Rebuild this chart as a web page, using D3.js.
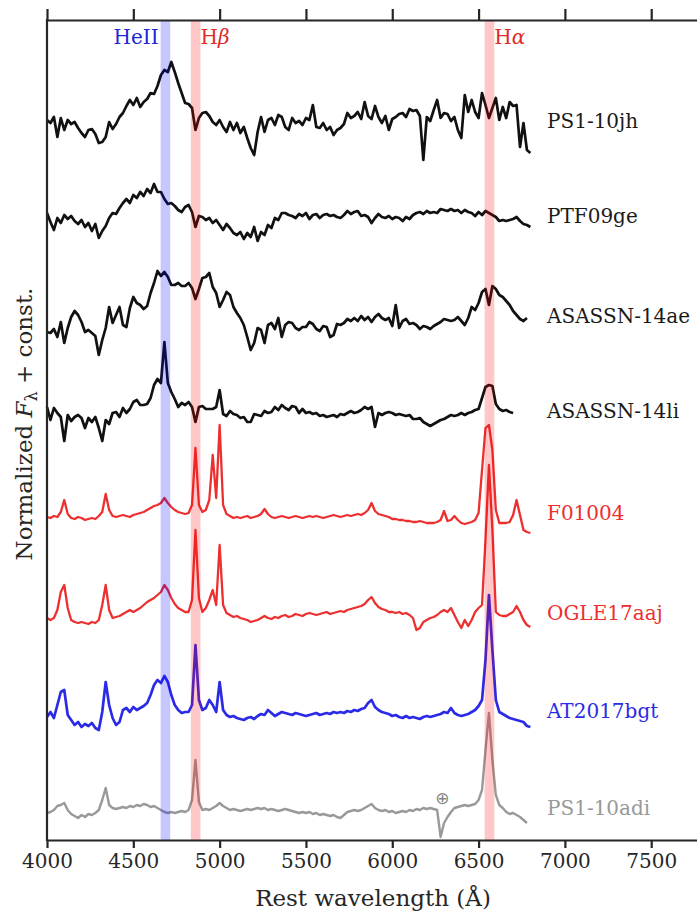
<!DOCTYPE html>
<html lang="en">
<head>
<meta charset="utf-8">
<title>Spectra comparison</title>
<script src="https://cdn.jsdelivr.net/npm/d3@7"></script>
<style>
  body { margin: 0; background: #fff; }
  svg { display: block; font-family: "DejaVu Serif", serif; }
  .axis text { font-size: 20px; fill: #262626; font-family: "DejaVu Serif", serif; }
  .axis path, .axis line { stroke: #262626; stroke-width: 2.2; }
  .spec { fill: none; stroke-linejoin: round; }
  .name { font-size: 20px; dominant-baseline: central; }
</style>
</head>
<body>
<svg id="chart" width="697" height="913"></svg>
<script>
// every spectrum is sampled on the same grid: 4000 A + 20 A steps
var gridStart = 4000, gridStep = 20;

var names = ["PS1-10jh", "PTF09ge", "ASASSN-14ae", "ASASSN-14li",
             "F01004", "OGLE17aaj", "AT2017bgt", "PS1-10adi"];
var colors = ["#111", "#111", "#111", "#111", "#ec2f2f", "#ec2f2f", "#2b2be6", "#999"];
var widths = [2.7, 2.7, 2.7, 2.7, 2.3, 2.3, 2.7, 2.4];
// vertical constant added to each normalized spectrum
var offsets = [7.15, 6.20, 5.20, 4.25, 3.23, 2.23, 1.25, 0.28];

var fluxJh = [1.05,1.02,1.08,0.88,1.07,0.95,1.05,1.01,1.03,0.97,
  0.92,0.88,0.95,0.96,0.91,0.82,0.83,0.88,1.03,0.96,
  1.01,1.08,1.12,1.19,1.25,1.20,1.27,1.18,1.23,1.26,
  1.32,1.31,1.39,1.50,1.55,1.53,1.63,1.53,1.42,1.32,
  1.22,1.21,1.17,0.95,1.07,1.12,1.13,1.09,1.03,1.00,
  1.05,0.98,0.93,1.03,0.95,1.02,0.92,0.98,0.87,0.77,
  0.70,0.93,1.08,0.93,1.05,1.07,1.00,1.10,1.08,0.98,
  0.95,1.07,1.02,1.04,1.00,1.07,1.05,1.20,0.98,0.97,
  1.02,0.95,0.98,0.90,0.95,0.97,1.01,1.12,1.07,1.09,
  1.13,1.06,1.23,1.09,1.06,1.19,1.08,1.02,1.09,0.95,
  1.06,1.08,1.11,1.12,1.08,1.16,1.14,1.15,1.09,0.65,
  1.08,1.04,1.15,1.25,1.07,1.12,1.11,1.04,1.08,0.95,
  0.87,1.30,1.13,1.25,1.13,1.07,1.32,1.20,1.07,1.17,
  1.27,1.05,1.18,1.07,1.23,1.19,1.20,0.78,1.02,0.75,
  0.72];

var fluxGe = [1.07,0.98,0.90,1.02,0.97,1.05,1.01,1.04,0.99,0.96,
  1.00,0.93,0.97,0.89,0.96,0.82,0.89,0.94,1.02,1.07,
  1.06,1.12,1.17,1.21,1.17,1.25,1.22,1.28,1.24,1.31,
  1.27,1.36,1.28,1.28,1.21,1.16,1.17,1.14,1.10,1.08,
  1.13,1.15,1.08,0.93,1.04,1.03,1.00,1.02,0.97,1.00,
  0.95,0.90,0.96,0.92,0.87,0.85,0.88,0.81,0.87,0.83,
  0.93,0.79,0.88,0.85,0.95,0.92,1.02,1.00,1.07,1.07,
  1.05,1.04,1.02,1.06,1.04,1.07,1.01,1.05,1.06,1.02,
  1.05,1.06,1.04,1.05,1.03,1.02,1.05,1.09,1.06,1.08,
  1.09,1.04,1.05,1.03,0.97,1.02,1.06,1.03,1.02,1.04,
  1.01,1.03,1.02,0.99,1.03,1.01,1.05,1.07,1.08,1.06,
  1.09,1.07,1.08,1.07,1.11,1.10,1.09,1.11,1.09,1.10,
  1.07,1.10,1.08,1.07,1.04,1.08,1.05,1.09,1.07,1.05,
  1.03,0.99,1.00,0.99,1.00,1.01,1.03,0.99,0.96,0.95,
  0.93];

var fluxAe = [0.88,0.87,0.91,0.83,0.98,0.77,0.92,1.03,1.09,1.05,
  0.98,0.88,0.90,0.87,0.84,0.65,0.80,0.92,1.13,0.97,
  1.05,1.13,0.95,0.93,1.12,1.23,1.17,1.15,1.11,1.14,
  1.27,1.37,1.49,1.44,1.48,1.43,1.35,1.35,1.37,1.34,
  1.34,1.37,1.32,1.21,1.31,1.42,1.43,1.47,1.33,1.27,
  1.13,1.20,1.28,1.25,1.13,1.07,1.02,0.95,0.83,0.70,
  0.77,0.92,0.90,0.77,0.95,0.97,0.91,1.02,0.83,0.95,
  0.98,0.97,0.92,0.90,0.93,0.93,0.98,0.96,0.91,0.89,
  0.94,0.93,0.83,0.85,0.96,0.95,0.97,1.01,0.99,1.02,
  0.99,1.04,1.00,1.03,0.98,1.03,1.06,1.02,1.00,1.02,
  0.94,1.15,0.92,0.99,1.01,0.96,0.97,0.95,0.91,0.94,
  0.93,0.91,0.94,0.96,0.98,1.01,1.00,0.99,1.00,1.03,
  0.99,0.95,1.02,1.13,1.10,1.17,1.28,1.31,1.15,1.34,
  1.31,1.25,1.23,1.19,1.15,1.09,1.05,1.01,0.99,1.02];

var fluxLi = [1.08,0.95,1.07,1.02,0.98,0.74,1.00,0.94,0.98,1.00,
  0.97,0.87,0.97,0.93,0.98,0.87,0.74,0.95,0.91,1.02,
  1.03,0.98,1.07,1.02,1.06,1.13,1.15,1.10,1.10,1.11,
  1.17,1.30,1.36,1.32,1.73,1.32,1.23,1.16,1.08,1.12,
  1.10,1.13,1.08,0.93,1.08,1.09,1.06,1.06,1.06,1.08,
  1.25,1.01,0.99,1.04,1.01,1.00,0.97,0.98,0.93,0.93,
  1.01,1.00,0.99,1.04,1.02,1.03,1.08,1.05,1.10,1.07,
  1.05,1.09,1.08,1.02,1.06,1.02,1.03,1.01,1.02,0.99,
  1.00,0.98,0.99,1.00,0.98,1.01,1.00,1.02,1.04,1.02,
  1.03,1.05,1.08,1.06,1.08,0.88,1.02,1.00,1.02,1.03,
  1.02,1.00,1.01,1.00,0.99,1.00,0.96,0.96,0.97,0.93,
  0.91,0.89,0.91,0.93,0.95,0.96,0.98,1.00,0.99,1.00,
  1.02,1.00,1.02,1.03,1.05,1.06,1.17,1.28,1.30,1.29,
  1.11,1.06,1.04,1.05,1.03,1.02];

var fluxF01004 = [1.00,0.99,1.01,1.00,1.05,1.17,1.03,0.99,0.98,1.00,
  0.99,0.97,0.98,0.99,0.98,1.01,1.05,1.23,1.07,1.01,
  1.00,1.01,1.02,1.01,1.00,1.02,1.03,1.04,1.05,1.07,
  1.09,1.11,1.12,1.14,1.19,1.14,1.10,1.07,1.05,1.04,
  1.03,1.04,1.12,1.69,1.12,1.05,1.07,1.17,1.62,1.19,
  1.92,1.12,1.03,1.01,0.99,1.00,0.99,1.00,1.01,0.99,
  1.00,1.01,1.03,1.08,1.03,1.00,0.99,1.00,1.01,1.00,
  0.99,1.00,1.01,1.00,0.99,1.00,1.01,1.00,1.01,1.00,
  0.99,1.00,1.01,1.02,1.01,1.00,1.01,1.02,1.01,1.02,
  1.03,1.02,1.04,1.07,1.14,1.06,1.03,1.02,1.01,1.00,
  0.98,0.98,0.97,0.97,0.96,0.96,0.95,0.95,0.96,0.95,
  0.94,0.94,0.94,0.95,0.97,1.06,0.96,0.97,1.01,0.97,
  0.94,0.93,0.94,0.95,0.97,1.04,1.47,1.89,1.92,1.67,
  1.07,0.94,0.94,0.94,0.95,1.02,1.17,1.02,0.87,0.85,
  0.84];

var fluxOgle = [0.99,0.97,0.99,1.07,1.25,1.32,1.09,0.97,0.95,0.94,
  0.95,0.94,0.93,0.95,0.94,0.97,1.12,1.32,1.07,0.99,
  1.00,1.01,1.03,1.05,1.07,1.05,1.07,1.09,1.12,1.15,
  1.17,1.19,1.22,1.25,1.32,1.27,1.19,1.13,1.09,1.07,
  1.05,1.05,1.17,1.87,1.19,1.05,1.09,1.17,1.27,1.12,
  1.72,1.12,1.04,1.02,1.00,1.01,0.99,0.98,0.97,0.95,
  0.96,0.97,0.99,1.01,0.99,0.98,1.00,0.99,1.01,1.02,
  1.00,1.01,1.03,1.02,1.01,1.03,1.04,1.03,1.02,1.03,
  1.04,1.05,1.03,1.04,1.05,1.06,1.05,1.07,1.08,1.09,
  1.10,1.11,1.13,1.17,1.20,1.14,1.10,1.08,1.07,1.05,
  1.05,1.04,1.05,1.03,1.04,1.02,0.99,0.87,0.89,0.95,
  0.97,0.99,1.00,1.02,1.05,1.07,1.05,1.09,1.02,0.95,
  0.89,0.97,0.91,0.97,1.05,1.09,1.12,1.77,2.52,1.87,
  1.05,1.02,1.01,1.01,1.03,1.05,1.11,1.05,0.97,0.92,
  0.90];

var fluxBgt = [0.98,1.03,0.97,1.10,1.23,1.25,1.00,0.95,0.90,0.93,
  0.88,0.91,0.89,0.92,0.87,0.85,1.03,1.33,1.10,0.97,
  0.90,0.93,1.05,1.07,1.03,1.08,1.05,1.07,1.09,1.12,
  1.20,1.30,1.35,1.32,1.39,1.33,1.20,1.10,1.05,1.02,
  1.03,1.03,1.10,1.70,1.15,1.05,1.07,1.15,1.10,1.03,
  1.33,1.05,1.00,0.98,0.99,0.97,0.96,0.95,0.97,0.98,
  0.96,0.99,1.01,1.00,1.05,1.02,0.99,1.01,1.03,1.02,
  1.01,1.00,1.02,1.01,1.00,0.99,1.00,1.01,1.02,1.00,
  1.01,1.02,1.01,1.03,1.02,1.03,1.02,1.04,1.03,1.05,
  1.04,1.06,1.07,1.12,1.15,1.08,1.05,1.03,1.02,1.01,
  0.99,1.00,0.98,0.97,0.99,0.97,0.98,0.97,0.96,0.98,
  0.99,0.98,0.99,1.00,1.01,1.03,1.02,1.07,1.02,1.00,
  0.99,1.00,1.01,1.03,1.05,1.09,1.15,1.55,2.20,1.65,
  1.15,1.03,1.01,0.99,0.97,0.96,0.95,0.94,0.93,0.89,
  0.88];

var fluxAdi = [0.99,1.00,1.02,1.06,1.07,1.09,1.02,0.98,0.96,0.94,
  0.97,0.95,0.98,0.97,0.99,1.02,1.12,1.24,1.07,1.04,
  1.03,1.04,1.05,1.04,1.06,1.05,1.07,1.06,1.08,1.07,
  1.05,1.06,1.04,1.02,1.00,0.99,1.00,0.99,1.00,1.01,
  1.00,1.02,1.12,1.52,1.10,1.02,1.03,1.02,1.04,1.06,
  1.09,1.06,1.04,1.02,1.03,1.02,1.01,1.02,1.03,1.02,
  1.03,1.04,1.03,1.04,1.02,1.03,1.02,1.01,1.02,1.03,
  1.02,1.01,1.00,0.99,1.00,0.99,1.00,0.98,0.99,0.97,
  0.98,0.97,0.96,0.97,0.95,0.94,0.97,1.00,1.01,1.02,
  1.01,1.02,1.04,1.06,1.08,1.04,1.02,1.01,1.02,1.00,
  1.01,0.99,1.00,1.01,1.00,1.02,1.01,1.03,1.02,1.04,
  1.03,1.04,1.03,1.02,0.75,0.89,0.95,1.00,1.04,1.05,
  1.06,1.07,1.06,1.07,1.08,1.12,1.22,1.62,1.99,1.52,
  1.17,1.07,1.04,1.00,0.98,0.99,0.97,0.95,0.92,0.89];

var fluxes = [fluxJh, fluxGe, fluxAe, fluxLi, fluxF01004, fluxOgle, fluxBgt, fluxAdi];

// emission line bands
var lineNames = ["HeII", "H", "H"];
var lineGreek = ["", "β", "α"];
var lineCenters = [4686, 4861, 6563];
var lineHalfWidth = 28;
var lineColors = ["#0000ff", "#ff0000", "#ff0000"];
var lineTextColors = ["#2424d8", "#e02a2a", "#e02a2a"];

var xTicks = [4000, 4500, 5000, 5500, 6000, 6500, 7000, 7500];

// telluric marker on PS1-10adi
var telluricWave = 6290, telluricFlux = 1.14;

var svg = d3.select("#chart");
var x = d3.scaleLinear().domain([4000, 7800]).range([47, 703]);
var y = d3.scaleLinear().domain([1, 9.2]).range([840, 20]);

// spectra
var line = d3.line()
  .x(function (d, i) { return x(gridStart + i * gridStep); });

fluxes.forEach(function (f, k) {
  svg.append("path")
    .attr("class", "spec")
    .attr("stroke", colors[k])
    .attr("stroke-width", widths[k])
    .attr("d", line.y(function (d) { return y(offsets[k] + d); })(f));
});

// shaded line bands drawn on top
lineCenters.forEach(function (c, k) {
  svg.append("rect")
    .attr("x", x(c - lineHalfWidth))
    .attr("y", y.range()[1])
    .attr("width", x(c + lineHalfWidth) - x(c - lineHalfWidth))
    .attr("height", y.range()[0] - y.range()[1])
    .attr("fill", lineColors[k])
    .attr("fill-opacity", 0.22);

  var t = svg.append("text")
    .attr("y", 44)
    .attr("font-size", 20)
    .attr("fill", lineTextColors[k]);
  if (k == 0) {
    t.attr("x", x(c - lineHalfWidth) - 2).attr("text-anchor", "end");
  } else {
    t.attr("x", x(c + lineHalfWidth)).attr("text-anchor", "start");
  }
  t.append("tspan").text(lineNames[k]);
  t.append("tspan").attr("font-style", "italic").text(lineGreek[k]);
});

// object names
names.forEach(function (n, k) {
  svg.append("text")
    .attr("class", "name")
    .attr("x", 547)
    .attr("y", y(offsets[k] + 1.04))
    .attr("fill", colors[k] == "#111" ? "#1a1a1a" : colors[k])
    .text(n);
});

svg.append("text")
  .attr("x", x(telluricWave))
  .attr("y", y(offsets[7] + telluricFlux))
  .attr("text-anchor", "middle")
  .attr("dominant-baseline", "central")
  .attr("font-family", "DejaVu Sans")
  .attr("font-size", 17)
  .attr("fill", "#888")
  .text("⊕");

// axes
svg.append("g")
  .attr("class", "axis")
  .attr("transform", "translate(0,840)")
  .call(d3.axisBottom(x).tickValues(xTicks).tickSize(8).tickSizeOuter(0)
    .tickPadding(6).tickFormat(d3.format("d")));

svg.append("g")
  .attr("class", "axis")
  .attr("transform", "translate(0,20)")
  .call(d3.axisTop(x).tickValues(xTicks).tickSize(11).tickSizeOuter(0).tickFormat(""));

svg.append("line")
  .attr("x1", 47).attr("x2", 47)
  .attr("y1", 19).attr("y2", 841)
  .attr("stroke", "#262626").attr("stroke-width", 2.2);

svg.append("text")
  .attr("x", 373)
  .attr("y", 906)
  .attr("text-anchor", "middle")
  .attr("font-size", 23)
  .attr("fill", "#262626")
  .text("Rest wavelength (Å)");

var ylab = svg.append("text")
  .attr("transform", "translate(32,424) rotate(-90)")
  .attr("text-anchor", "middle")
  .attr("font-size", 23)
  .attr("fill", "#262626");
ylab.append("tspan").text("Normalized ");
ylab.append("tspan").attr("font-style", "italic").text("F");
ylab.append("tspan").attr("font-size", 16).attr("dy", 5).text("λ");
ylab.append("tspan").attr("dy", -5).text(" + const.");
</script>
</body>
</html>
